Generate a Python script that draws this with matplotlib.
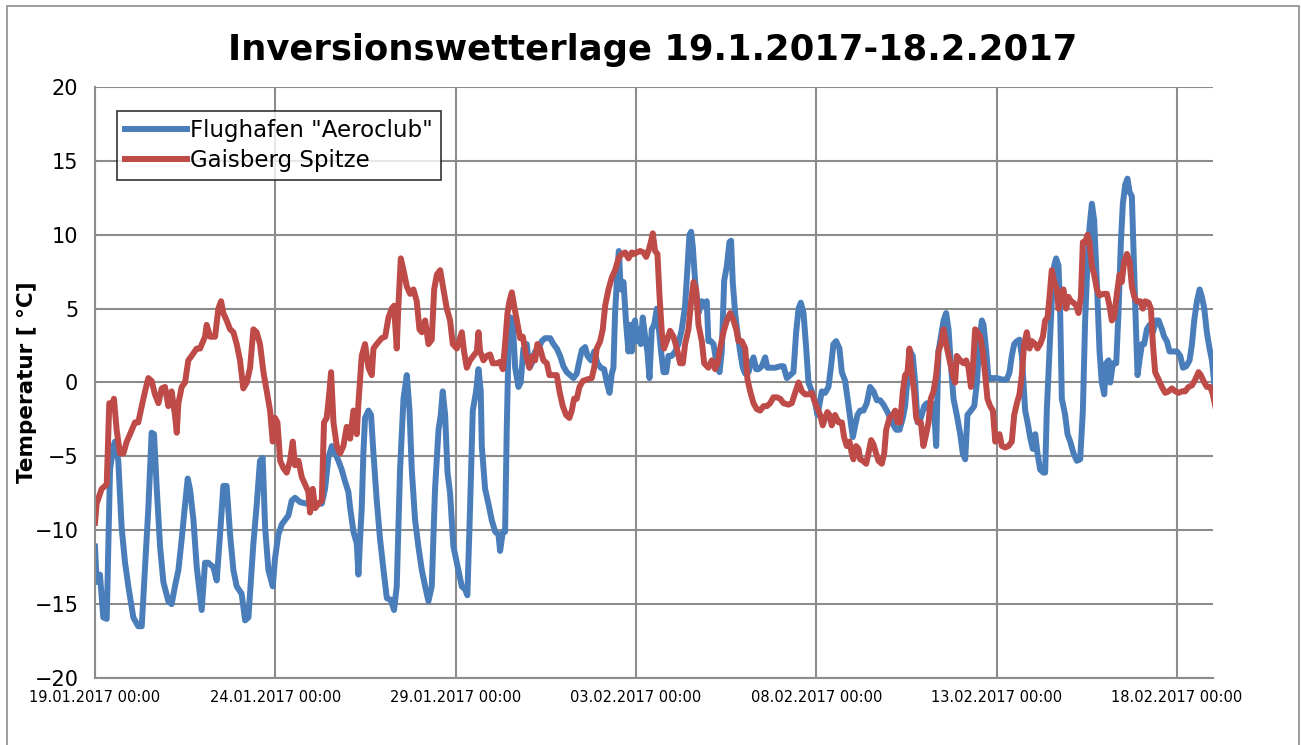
import numpy as np
import pandas as pd
import matplotlib
matplotlib.use("Agg")
import matplotlib.pyplot as plt
import matplotlib.dates as mdates
from matplotlib.patches import Rectangle

# hours since 19.01.2017 00:00 and temperature (°C)
flughafen_h = [0, 1.1, 3.3, 5.5, 7.8, 10.0, 12.2, 13.3, 15.5, 17.7, 20.0, 22.2, 25.5, 28.8, 31.1, 33.3,
               35.5, 37.7, 39.3, 41.1, 43.3, 45.5, 48.8, 51.0, 53.2, 55.5, 57.7, 59.9, 61.7, 63.2, 65.5,
               67.7, 71.0, 73.2, 75.4, 78.8, 81.0, 83.2, 85.4, 87.6, 89.9, 92.1, 94.3, 97.6, 99.9, 102.1,
               105.4, 107.6, 109.8, 111.6, 113.2, 115.4, 118.3,
               119.8, 122.0, 124.3, 126.5, 128.7, 130.9, 133.1, 136.5, 140.9, 147.6, 150.9, 153.1, 155.3,
               157.6, 159.8, 162.0, 164.2, 166.4, 168.6, 169.8, 172.0, 174.2, 175.3, 176.4, 177.5, 178.6,
               179.7, 182.0, 183.7, 185.3, 187.5, 189.7, 192.0, 194.2, 196.8, 199.0, 200.8, 203.0, 205.3,
               207.5, 209.3, 210.8, 213.0, 215.2, 217.5, 219.7, 221.9, 224.1, 226.3, 228.6, 230.1, 231.4,
               233.0, 234.6, 236.3,
               238.5, 241.8, 244.1, 246.3, 247.8, 249.6, 251.4, 253.6, 255.2, 256.7, 257.4, 259.6, 261.8,
               264.0, 266.3, 268.5, 269.6, 271.4, 272.9, 274.0, 275.1, 276.7, 278.0, 279.6, 281.8, 283.3,
               285.1, 287.3, 289.1, 290.7, 292.9, 295.1, 297.3, 299.5, 302.9, 305.1, 307.3, 309.5, 311.7,
               314.0, 316.2, 318.4, 320.6, 322.4, 324.0, 326.2, 327.7, 330.0, 332.2, 334.4, 336.6, 338.8,
               340.6, 342.4, 343.9, 345.0, 346.1, 347.7, 348.6, 349.9, 351.7, 353.5, 355.0, 356.1,
               357.2, 358.3, 359.4, 360.5, 361.6, 363.2, 364.5, 366.1, 367.6, 369.0, 370.5, 372.1, 373.9,
               375.0, 376.5, 378.3, 380.1, 381.6, 383.8, 386.1, 388.3, 390.5, 392.7, 394.3, 395.6, 396.7,
               397.8, 399.4, 401.6, 403.8, 405.4, 407.1, 408.2, 409.8, 411.6, 413.3, 415.6, 417.1, 418.7,
               420.5, 422.2, 423.3, 424.4, 426.0, 427.5, 429.3, 431.1, 432.7, 434.9, 436.4, 438.2, 440.0,
               441.5, 443.7, 446.0, 447.5, 449.3, 452.6, 456.0, 458.2, 460.4, 462.6, 464.8, 466.6, 468.2,
               469.7, 471.5, 473.3, 474.8, 477.0, 479.3, 480.8,
               483.7, 485.9, 488.1, 489.7, 491.4, 493.2, 495.4, 497.0, 499.2, 500.8, 502.5, 504.3, 505.9,
               507.4, 509.2, 511.4, 513.6, 515.8, 518.1, 520.3, 522.5, 524.7, 526.9, 529.2, 531.4, 533.2,
               535.4, 537.6, 539.1, 540.9, 542.5, 544.2, 545.8, 547.4, 549.6, 551.8, 553.6, 555.3, 556.9,
               558.4, 559.8, 561.3, 562.9, 564.7, 566.4, 568.0, 569.5, 571.3, 573.5, 575.8, 577.5, 579.1,
               580.6, 582.9, 585.1, 586.9, 588.6, 590.2, 591.3, 593.1, 594.6, 596.8, 600.2,
               603.5, 606.8, 608.6, 610.1, 611.7, 613.5, 615.2, 616.8, 617.9, 619.0, 620.6, 622.3, 624.1,
               625.7, 627.2, 629.0, 631.2, 632.3, 633.4, 635.2, 636.7, 638.3, 639.6, 641.2, 642.3, 643.4,
               645.6, 647.2, 649.0, 651.2, 653.4, 655.6, 657.4, 658.9, 660.5, 661.8, 663.4, 664.9, 666.7,
               668.5, 670.0, 671.6, 672.9, 674.5, 675.6, 677.4, 679.6, 681.1, 682.7, 684.0, 685.6, 687.1,
               688.5, 690.0, 691.1, 692.4, 693.8, 695.1, 696.7, 698.2, 700.0, 701.8, 704.0, 706.2, 707.8,
               710.0, 711.5, 713.3, 715.1, 717.3, 720.0, 722.2, 724.0, 726.2, 728.4, 730.0, 731.5, 733.3,
               735.1, 736.6, 738.2, 739.9, 741.7, 743.3, 744.8]
flughafen_t = [-11.1, -13.5, -13.0, -15.9, -16.0, -5.9, -4.3, -4.0, -5.3, -9.8, -12.2, -13.8, -15.9, -16.5,
               -16.5, -12.5, -8.5, -3.4, -3.5, -7.2, -11.1, -13.5, -14.8, -15.0, -13.8, -12.7, -10.6, -8.3,
               -6.5, -7.2, -9.3, -12.5, -15.4, -12.2, -12.2, -12.5, -13.4, -10.3, -7.0, -7.0, -10.3, -12.7,
               -13.8, -14.3, -16.1, -15.9, -10.9, -8.3, -5.3, -5.1, -9.8, -12.7, -13.8,
               -11.9, -10.3, -9.6, -9.3, -9.0, -8.0, -7.8, -8.1, -8.2, -8.2, -8.2, -7.2, -5.1, -4.3, -4.8,
               -5.3, -5.9, -6.7, -7.4, -8.5, -10.1, -10.9, -13.0, -10.6, -8.5, -4.8, -2.4, -1.9, -2.2, -4.8,
               -8.0, -10.6, -12.7, -14.6, -14.7, -15.4, -13.8, -5.9, -1.1, 0.5, -1.9, -5.9, -9.3, -11.1,
               -12.7, -13.8, -14.8, -13.8, -7.2, -3.2, -2.2, -0.6, -2.2, -6.1, -7.5,
               -11.1, -12.7, -13.8, -14.0, -14.4, -8.5, -1.9, -0.6, 0.9, -0.6, -4.3, -7.2, -8.2, -9.3,
               -10.1, -10.3, -11.4, -10.1, -10.1, -3.2, 2.1, 4.4, 4.2, 1.0, -0.3, 0.0, 2.3, 2.6, 1.0, 1.3,
               2.1, 2.3, 2.8, 3.0, 3.0, 2.6, 2.3, 1.8, 1.1, 0.7, 0.5, 0.3, 0.6, 1.5, 2.2, 2.4, 1.8, 1.5,
               2.1, 1.3, 1.0, 0.9, 0.0, -0.7, 0.6, 1.0, 4.7, 7.6, 8.9, 6.3, 6.8, 3.9, 2.1, 3.9,
               2.1, 3.9, 4.2, 2.8, 3.6, 2.6, 4.4, 3.1, 2.1, 0.3, 3.6, 3.9, 5.0, 3.9, 2.3, 0.7, 0.7, 1.8,
               1.8, 2.1, 2.6, 3.6, 5.2, 7.9, 10.0, 10.2, 9.2, 6.8, 4.7, 5.5, 5.2, 5.5, 2.8, 2.8, 2.6, 1.5,
               0.7, 2.1, 6.9, 7.9, 9.5, 9.6, 6.8, 4.7, 3.4, 2.1, 1.0, 0.6, 0.7, 1.3, 1.7, 0.9, 0.9, 1.1,
               1.7, 1.0, 1.0, 1.0, 1.1, 1.1, 0.3, 0.5, 0.7, 3.4, 5.0, 5.4, 4.7, 2.3, 0.0, -0.6, -1.4, -2.2,
               -0.6, -0.7, -0.3, 1.0, 2.6, 2.8, 2.3, 0.7, 0.1, -1.1, -2.4, -3.7, -2.9, -2.2, -1.9, -1.9,
               -1.4, -0.3, -0.6, -1.2, -1.2, -1.5, -1.9, -2.4, -2.9, -3.2, -3.2, -2.4, -1.6, 0.5, 2.1, 1.8,
               0.0, -2.7, -2.4, -1.6, -1.4, -1.9, -1.4, -1.9, -4.3, 2.1, 3.1, 4.2, 4.7, 3.6, 1.3, -1.1,
               -2.2, -3.5, -4.8, -5.2, -2.2, -1.9, -1.6, 0.0, 2.8, 4.2, 3.9, 2.1, 0.2, 0.3, 0.3,
               0.2, 0.2, 0.7, 1.8, 2.6, 2.8, 2.9, 1.8, 0.0, -1.9, -2.7, -3.7, -4.5, -3.5, -4.8, -5.9, -6.1,
               -6.1, -1.9, 2.1, 5.5, 7.9, 8.4, 7.9, 4.7, -1.1, -2.2, -3.5, -4.0, -4.8, -5.3, -5.2, -1.9,
               4.2, 8.2, 10.5, 12.1, 11.0, 6.8, 2.1, 0.0, -0.8, 1.3, 1.5, 0.0, 1.3, 1.3, 4.7, 9.5, 12.1,
               13.4, 13.8, 12.9, 12.6, 8.9, 4.7, 0.5, 1.5, 2.6, 2.6, 3.6, 3.9, 3.4, 4.2, 4.2, 3.6, 3.1,
               2.8, 2.1, 2.1, 2.1, 1.8, 1.0, 1.1, 1.5, 2.6, 4.2, 5.5, 6.3, 5.8, 5.0, 3.4, 2.3, 1.5, 0.0]

gaisberg_h = [0, 1.1, 4.4, 7.8, 9.5, 11.1, 12.6, 14.4, 16.6, 18.9, 21.1, 23.3, 26.6, 28.8, 31.1, 33.3,
              35.5, 37.7, 39.9, 42.2, 44.4, 46.6, 48.8, 51.0, 53.2, 54.4, 55.5, 57.7, 59.9, 62.1, 64.3,
              67.7, 69.9, 73.2, 74.3, 76.6, 79.9, 82.1, 83.9, 85.4, 87.6, 89.9, 92.1, 94.3, 96.5, 98.7,
              101.0, 103.2, 105.4, 107.6, 109.8, 112.1, 114.3, 116.5,
              118.3, 119.8, 121.4, 123.2, 125.4, 127.6, 129.8, 131.6, 133.1, 135.4, 137.6, 139.8, 142.0,
              143.1, 144.9, 146.5, 148.7, 150.9, 152.4, 154.2, 156.0, 157.1, 158.7, 160.9, 163.1, 165.3,
              167.5, 169.8, 172.0, 174.2, 175.3, 177.5, 179.7, 182.0, 184.2, 185.3, 187.5, 190.8, 193.1,
              195.3, 197.5, 199.0, 200.8, 201.9, 203.5, 205.3, 207.5, 209.7, 211.9, 214.1, 215.9, 217.5,
              219.7, 221.9, 224.1, 225.7, 227.5, 229.7, 231.9, 234.1, 236.3, 238.1, 240.8,
              244.1, 245.6, 247.4, 249.6, 251.8, 254.1, 255.2, 256.3, 258.5, 260.7, 262.9, 264.7, 267.4,
              269.6, 271.4, 272.9, 274.5, 275.8, 277.4, 278.9, 280.7, 282.9, 284.7, 286.9, 289.1, 291.3,
              292.9, 294.4, 296.2, 298.4, 300.7, 302.4, 305.1, 307.3, 309.1, 311.3, 313.5, 315.7, 317.3,
              318.8, 320.6, 322.4, 324.6, 327.3, 330.6, 332.2, 333.9, 336.2, 337.9, 339.5, 341.7, 343.9,
              346.1, 348.4, 350.6, 352.8, 355.0, 357.2,
              358.3, 360.5, 362.8, 365.0, 366.8, 368.3, 369.9, 371.2, 372.7, 374.3, 375.6, 377.2, 378.7,
              380.5, 382.7, 385.0, 387.2, 389.4, 391.2, 392.7, 394.9, 396.7, 398.3, 400.0, 401.6, 403.8,
              405.4, 408.2, 410.5, 412.7, 414.2, 416.0, 418.2, 420.5, 422.7, 424.9, 426.7, 428.2, 430.4,
              432.7, 434.2, 436.0, 438.2, 440.4, 442.6, 444.9, 447.1, 449.3, 451.5, 453.7, 456.0, 458.2,
              461.5, 463.7, 465.9, 468.2, 470.4, 472.6, 474.8, 477.0, 479.3,
              482.6, 484.3, 485.9, 487.4, 488.8, 490.3, 492.5, 494.8, 497.0, 498.5, 500.3, 502.1, 503.6,
              504.7, 506.5, 508.1, 509.2, 511.0, 513.2, 514.7, 516.5, 518.1, 519.8, 521.4, 523.6, 525.2,
              526.5, 528.7, 530.9, 532.5, 534.0, 535.8, 537.6, 539.1, 540.7, 542.0, 543.6, 545.1, 546.5,
              548.0, 549.6, 551.3, 553.1, 554.7, 556.2, 558.0, 559.8, 561.3, 562.9, 564.7, 566.4, 568.7,
              570.9, 572.4, 573.5, 575.8, 578.0, 579.7, 581.3, 582.9, 584.2, 585.7, 587.3, 589.1, 590.8,
              592.4, 593.9, 595.7, 597.5, 599.1,
              600.6, 601.9, 603.5, 605.7, 607.9, 610.1, 611.7, 613.5, 615.2, 616.8, 618.3, 620.1, 621.9,
              623.4, 625.7, 627.2, 629.0, 630.8, 632.3, 633.9, 635.2, 636.7, 638.3, 640.1, 641.2, 642.7,
              644.5, 646.3, 647.8, 649.4, 651.2, 653.0, 654.5, 656.1, 657.4, 658.9, 660.5, 661.8, 663.4,
              664.9, 666.7, 668.5, 671.1, 673.4, 675.1, 676.7, 678.2, 680.0, 681.8, 683.3, 684.9, 686.7,
              688.5, 690.0, 691.6, 693.3, 695.6, 697.3, 698.9, 701.1, 702.7, 704.0, 705.5, 707.8, 710.0,
              712.2, 714.4, 716.6, 718.9, 721.1, 723.3, 725.5, 727.7, 730.0, 732.2, 734.4, 735.9, 737.7,
              739.9, 742.2, 743.9, 745.5]
gaisberg_t = [-9.5, -8.2, -7.2, -6.9, -1.4, -1.6, -1.1, -3.2, -4.8, -4.8, -4.0, -3.5, -2.7, -2.7, -1.6,
              -0.6, 0.3, 0.1, -0.8, -1.4, -0.4, -0.3, -1.6, -0.6, -2.2, -3.4, -1.4, -0.3, 0.0, 1.5, 1.8,
              2.3, 2.3, 3.1, 3.9, 3.1, 3.1, 5.0, 5.5, 4.7, 4.2, 3.6, 3.4, 2.6, 1.5, -0.4, 0.0, 1.0, 3.6,
              3.4, 2.6, 0.7, -0.6, -1.9,
              -4.0, -2.4, -2.7, -5.3, -5.8, -6.1, -5.3, -4.0, -5.6, -5.3, -6.4, -6.9, -7.4, -8.8, -7.2,
              -8.5, -8.2, -8.0, -2.7, -2.4, -0.6, 0.7, -2.7, -4.3, -4.8, -4.3, -3.0, -3.8, -1.9, -3.5,
              -1.4, 1.8, 2.6, 1.0, 0.5, 2.3, 2.6, 3.0, 3.1, 4.4, 5.0, 5.2, 2.3, 5.2, 8.4, 7.6, 6.5, 6.0,
              6.3, 5.5, 3.6, 3.4, 4.2, 2.6, 2.9, 6.3, 7.3, 7.6, 6.3, 5.0, 4.2, 2.6, 2.3,
              3.4, 2.1, 1.0, 1.5, 1.8, 2.1, 3.4, 2.1, 1.5, 1.8, 1.9, 1.3, 1.3, 1.4, 0.9, 2.6, 4.7, 5.5,
              6.1, 5.2, 4.2, 3.0, 3.1, 1.8, 1.0, 1.8, 1.5, 2.6, 2.3, 1.5, 1.3, 0.5, 0.5, 0.5, -0.6, -1.6,
              -2.2, -2.4, -1.9, -1.1, -1.1, -0.3, 0.1, 0.2, 0.3, 1.0, 2.3, 2.8, 3.6, 5.2, 6.3, 7.1, 7.6,
              8.4, 8.7, 8.8, 8.4, 8.8,
              8.7, 8.8, 8.9, 8.8, 8.5, 8.9, 9.5, 10.1, 8.9, 8.7, 6.0, 3.4, 2.3, 2.8, 3.5, 3.1, 2.3, 1.3,
              1.3, 2.6, 3.6, 5.5, 6.8, 6.3, 3.9, 2.8, 1.3, 1.0, 1.5, 0.9, 1.3, 2.3, 3.4, 4.2, 4.7, 4.2,
              3.6, 2.8, 2.8, 2.3, 0.2, -0.6, -1.4, -1.8, -1.9, -1.6, -1.6, -1.4, -1.0, -1.0, -1.1, -1.4,
              -1.5, -1.4, -0.7, 0.0, -0.6, -0.8, -0.8, -0.7, -1.4,
              -2.2, -2.9, -2.4, -2.0, -2.2, -2.9, -2.2, -2.7, -2.7, -3.7, -4.3, -4.0, -4.8, -5.2, -4.3,
              -4.5, -5.2, -5.3, -5.5, -4.8, -3.9, -4.2, -4.8, -5.3, -5.5, -4.8, -3.2, -2.4, -2.2, -1.9,
              -2.7, -2.7, -0.6, 0.5, 0.7, 2.3, 0.5, -0.6, -2.4, -2.7, -2.7, -4.3, -3.5, -2.7, -1.1, -0.6,
              0.5, 2.1, 2.6, 3.6, 2.6, 1.5, 0.5, 0.0, 1.8, 1.5, 1.3, 1.5, 1.0, -0.3, 1.0, 3.6, 3.4, 3.1,
              2.1, 0.5, -1.1, -1.6, -1.9, -4.0,
              -3.7, -3.5, -4.3, -4.4, -4.3, -4.0, -2.2, -1.4, -0.8, 0.5, 2.6, 3.4, 2.3, 2.8, 2.6, 2.3,
              2.6, 3.1, 4.2, 4.4, 5.8, 7.6, 6.8, 6.3, 5.0, 5.8, 6.3, 5.0, 5.8, 5.5, 5.4, 5.2, 4.7, 5.8,
              9.5, 9.5, 10.0, 9.5, 7.9, 7.3, 6.3, 5.9, 6.0, 6.0, 5.2, 4.2, 4.4, 6.0, 7.3, 6.8, 8.2, 8.7,
              8.2, 6.5, 5.8, 5.5, 5.5, 5.0, 5.5, 5.4, 5.0, 2.6, 0.7, 0.2, -0.3, -0.7, -0.6, -0.4, -0.6,
              -0.7, -0.6, -0.6, -0.3, -0.2, 0.2, 0.7, 0.5, 0.1, -0.3, -0.3, -0.8, -1.6]

series_names = ['Flughafen "Aeroclub"', 'Gaisberg Spitze']
series_colors = ['#4A7EBB', '#BE4B48']
start = pd.Timestamp('2017-01-19 00:00')
tick_days = [0, 5, 10, 15, 20, 25, 30]

fig = plt.figure(figsize=(13.01, 7.45), dpi=100)
ax = fig.add_axes([95 / 1301, 1 - 678 / 745, (1213 - 95) / 1301, (678 - 87) / 745])

for hours, temps, name, col in [(flughafen_h, flughafen_t, series_names[0], series_colors[0]),
                                (gaisberg_h, gaisberg_t, series_names[1], series_colors[1])]:
    times = start + pd.to_timedelta(np.array(hours), unit='h')
    ax.plot(times, temps, color=col, lw=4.3, label=name, solid_joinstyle='round')

ax.set_xlim(start, start + pd.Timedelta(days=31))
ax.set_ylim(-20, 20)
ax.set_yticks(np.arange(-20, 21, 5))
ax.set_xticks([start + pd.Timedelta(days=d) for d in tick_days])
ax.xaxis.set_major_formatter(mdates.DateFormatter('%d.%m.%Y %H:%M'))

ax.grid(True, color='#8c8c8c', lw=1.5)
ax.set_axisbelow(True)
for side in ['top', 'right']:
    ax.spines[side].set_visible(False)
for side in ['left', 'bottom']:
    ax.spines[side].set_color('#8c8c8c')
    ax.spines[side].set_linewidth(1.5)
ax.tick_params(axis='y', length=0, labelsize=15, pad=12)
ax.tick_params(axis='x', length=0, labelsize=10.5, pad=9)

ax.set_ylabel('Temperatur [ °C]', fontsize=15.5, fontweight='bold', labelpad=6)
ax.yaxis.set_label_coords(-0.052, 0.5)
fig.text(0.502, 1 - 50 / 745, 'Inversionswetterlage 19.1.2017-18.2.2017', fontsize=25.5,
         fontweight='bold', ha='center', va='center')

leg = ax.legend(loc='upper left', bbox_to_anchor=(0.0197, 0.959), borderaxespad=0,
                fontsize=16.5, frameon=True, fancybox=False, handlelength=2.7,
                handletextpad=0.15, borderpad=0.35, labelspacing=0.3)
leg.get_frame().set_edgecolor('black')
leg.get_frame().set_linewidth(1.2)

fig.patches.append(Rectangle((7 / 1301, -0.01), (1299 - 7) / 1301, 1 - 6 / 745 + 0.01,
                             transform=fig.transFigure, fill=False, edgecolor='#8c8c8c', lw=1.2))

fig.savefig('out.png', dpi=100)
